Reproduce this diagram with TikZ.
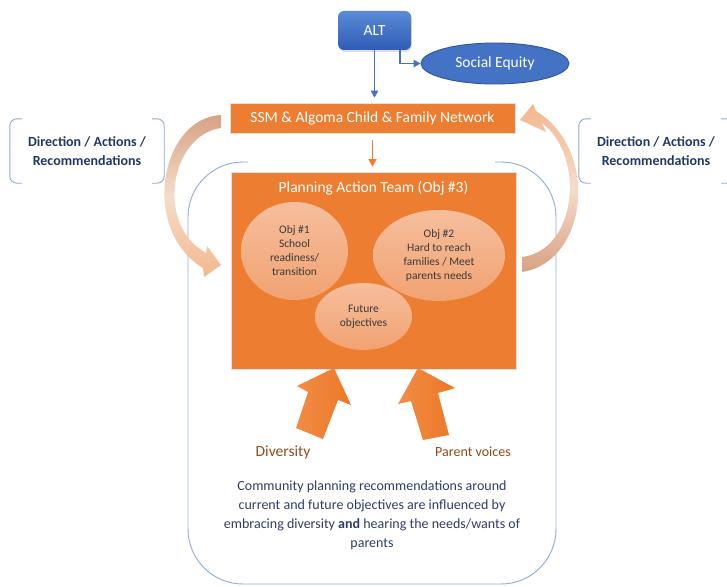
\documentclass[tikz,border=0pt]{standalone}
\usepackage{fontspec}
\setmainfont{Carlito}
\usetikzlibrary{arrows.meta,shapes.geometric,shadows,calc}
\definecolor{orng}{HTML}{ED7D31}
\definecolor{blu}{HTML}{4472C4}
\definecolor{bludk}{HTML}{2F5597}
\definecolor{altt}{HTML}{5A8AD8}
\definecolor{altb}{HTML}{2F5DB5}
\definecolor{navy}{HTML}{203864}
\definecolor{bodytxt}{HTML}{2F3C66}
\definecolor{brn}{HTML}{8F4A1A}
\definecolor{brk}{HTML}{8EA9DB}
\definecolor{tan}{HTML}{D8A283}
\definecolor{peach}{HTML}{F4B78D}
\definecolor{pale}{HTML}{F5DCCB}
\definecolor{ellt}{HTML}{F6BE9C}
\definecolor{ellb}{HTML}{F1A272}
\definecolor{elltxt}{HTML}{3A3A3A}
\definecolor{arrl}{HTML}{F28C45}
\definecolor{arrr}{HTML}{EC7828}
\begin{document}
\begin{tikzpicture}[x=1pt,y=-1pt,
  altbox/.style={rounded corners=6pt, minimum width=73pt, minimum height=39pt,
    top color=altt, bottom color=altb, text=white, inner sep=0pt,
    font=\fontsize{15.5}{18}\selectfont,
    drop shadow={opacity=0.25, shadow xshift=1pt, shadow yshift=-2pt}},
  seell/.style={ellipse, fill=blu, draw=bludk, line width=0.9pt, inner sep=0pt,
    minimum width=148pt, minimum height=41pt, text=white,
    font=\fontsize{15.5}{18}\selectfont},
  obox/.style={fill=orng, draw=black!12, line width=0.7pt, inner sep=0pt,
    text=white, font=\fontsize{15.5}{18}\selectfont},
  objell/.style={ellipse, inner sep=0pt, shading=axis, top color=ellt, bottom color=ellb,
    text=elltxt, align=center, font=\fontsize{11.5}{14}\selectfont},
  dirbox/.style={minimum width=154pt, minimum height=64pt, inner sep=0pt,
    text=navy, align=center, font=\fontsize{14}{19}\selectfont\bfseries},
  brkline/.style={draw=brk, line width=0.9pt, rounded corners=7pt},
  bluarrow/.style={draw=blu, line width=1.4pt, -{Triangle[length=7pt,width=7.5pt]}},
  orarrow/.style={draw=orng, line width=1.6pt, -{Triangle[length=7.5pt,width=8pt]}},
  curvearrow/.style={shading=axis, draw=none},
  blockarrow/.style={left color=arrl, right color=arrr, draw=none},
  lbl/.style={text=brn, inner sep=0pt}
]
\useasboundingbox (0,0) rectangle (727,586);
\clip (0,0) rectangle (727,586);

% big rounded outline (open at top middle)
\draw[draw=brk, line width=0.9pt, rounded corners=55pt]
  (248,162) -- (188,162) -- (188,584) -- (556,584) -- (556,162) -- (495,162);

% direction boxes
\node[dirbox] (dirL) at (87,151) {Direction / Actions /\\Recommendations};
\node[dirbox] (dirR) at (656,151) {Direction / Actions /\\Recommendations};
\foreach \b in {dirL,dirR}{
  \draw[brkline] ($(\b.north west)+(12,0)$) -- (\b.north west) -- (\b.south west) -- ($(\b.south west)+(12,0)$);
  \draw[brkline] ($(\b.north east)+(-12,0)$) -- (\b.north east) -- (\b.south east) -- ($(\b.south east)+(-12,0)$);
}

% top nodes
\node[altbox] (alt) at (374.5,30.5) {ALT};
\node[seell] (se) at (495,63.5) {Social Equity};
\node[obox, minimum width=285pt, minimum height=30pt] (ssm) at (372.5,118) {SSM \& Algoma Child \& Family Network};

% planning box
\node[obox, minimum width=285pt, minimum height=197pt] (pat) at (373.5,270.5) {};
\node[text=white, inner sep=0pt, font=\fontsize{15.5}{18}\selectfont] (pattitle) at (373.5,188) {Planning Action Team (Obj \#3)};

\node[objell, minimum width=107pt, minimum height=98pt] (obj1) at (294.5,251) {Obj \#1\\School\\readiness/\\transition};
\node[objell, minimum width=132pt, minimum height=91pt] (obj2) at (439,255.5) {Obj \#2\\Hard to reach\\families / Meet\\parents needs};
\node[objell, minimum width=97pt, minimum height=67pt] (fut) at (363.5,316.5) {Future\\objectives};

% connectors
\draw[bluarrow, shorten >=5pt] (alt.south) -- (alt.south |- ssm.north);
\draw[bluarrow] ([xshift=25.5pt]alt.south) |- (se.west);
\draw[orarrow, shorten <=7pt, shorten >=5pt] (ssm.south) -- (ssm.south |- pat.north);

% curved arrows
\path[curvearrow, top color=tan, bottom color=peach, middle color=pale]
  (221,115) .. controls (160,118) and (140,230) .. (203,268)
  -- (204,277) -- (221,265) -- (207,246) -- (206,253)
  .. controls (155,225) and (170,135) .. (221,128) -- cycle;
\path[curvearrow, top color=peach, bottom color=tan, middle color=pale]
  (522,272) .. controls (588,262) and (600,150) .. (536,111)
  -- (533,104) -- (520,120) -- (546,132) -- (542,123)
  .. controls (585,155) and (578,250) .. (522,257) -- cycle;

% block arrows
\path[blockarrow] (296,428) -- (308,392) -- (297,386) -- (334,368) -- (351,405) -- (338,400) -- (323,439) -- cycle;
\path[blockarrow] (423,440) -- (411,401) -- (398,404) -- (418,368) -- (455,388) -- (438,393) -- (449,435) -- cycle;

\node[lbl, font=\fontsize{15.5}{18}\selectfont] (div) at (283,452) {Diversity};
\node[lbl, font=\fontsize{14}{17}\selectfont] (pv) at (473,452) {Parent voices};

\node[text=bodytxt, align=center, inner sep=0pt, font=\fontsize{14}{19}\selectfont] (body) at (372,515)
  {Community planning recommendations around\\current and future objectives are influenced by\\embracing diversity {\bfseries and} hearing the needs/wants of\\parents};
\end{tikzpicture}
\end{document}
